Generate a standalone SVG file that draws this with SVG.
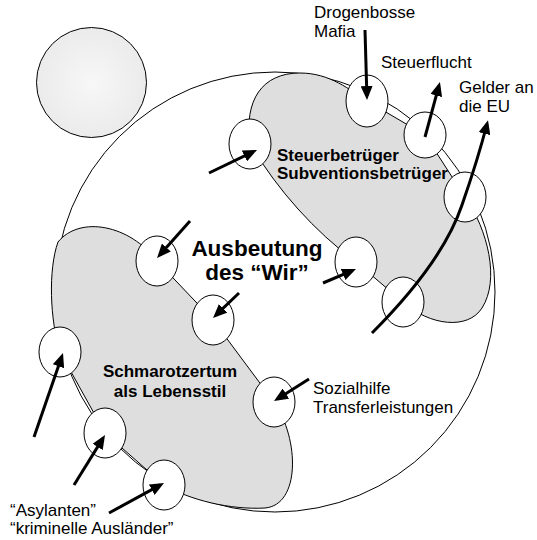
<svg xmlns="http://www.w3.org/2000/svg" width="537" height="540" viewBox="0 0 537 540">
<defs>
<radialGradient id="moon" cx="0.5" cy="0.5" r="0.5">
<stop offset="0" stop-color="#f7f7f7"/>
<stop offset="1" stop-color="#ebebeb"/>
</radialGradient>
<marker id="ah" viewBox="0 0 14 12" refX="10" refY="6" markerWidth="14" markerHeight="12" markerUnits="userSpaceOnUse" orient="auto">
<path d="M0,0 L14,6 L0,12 z" fill="#000"/>
</marker>
<style>
.ln{fill:none;stroke:#000;stroke-width:1}
.lobe{fill:#dedede;stroke:#000;stroke-width:1}
.el{fill:#fff;stroke:#000;stroke-width:1}
.ar{fill:none;stroke:#000;stroke-width:3;marker-end:url(#ah)}
text{font-family:"Liberation Sans",Arial,sans-serif;font-size:17px;fill:#000}
.b{font-weight:bold}
.big{font-weight:bold;font-size:22.5px}
</style>
</defs>
<rect width="537" height="540" fill="#fff"/>
<g id="moon-circle"><circle cx="91.5" cy="82.5" r="55" fill="url(#moon)" stroke="#000" stroke-width="1"/></g>
<g id="society"><circle cx="275" cy="292" r="220" fill="#fff" stroke="#000" stroke-width="1"/></g>
<g id="upper-lobe">
<path class="lobe" d="M250,144 C244,100 262,73 300,73 C330,73 350,90 367,101 L425,135 L465,197 C488,230 500,280 482,308 C468,330 430,326 403,302 L356,262 Q293,215 250,144 Z"/>
</g>
<g id="lower-lobe">
<path class="lobe" d="M157,261 C130,225 80,215 58,242 C48,270 50,320 60,352 L105,433 L164,485 C190,500 230,510 265,508 C300,505 300,440 274,402 L213,320 Z"/>
</g>
<g id="slots">
<ellipse class="el" cx="367" cy="101" rx="21" ry="26"/>
<ellipse class="el" cx="425" cy="135" rx="21" ry="23"/>
<ellipse class="el" cx="465" cy="197" rx="21" ry="25"/>
<ellipse class="el" cx="250" cy="144" rx="21" ry="25"/>
<ellipse class="el" cx="356" cy="262" rx="21" ry="25"/>
<ellipse class="el" cx="403" cy="302" rx="21" ry="25"/>
<ellipse class="el" cx="157" cy="261" rx="21" ry="25"/>
<ellipse class="el" cx="213" cy="320" rx="21" ry="25"/>
<ellipse class="el" cx="274" cy="402" rx="21" ry="25"/>
<ellipse class="el" cx="60" cy="352" rx="21" ry="25"/>
<ellipse class="el" cx="105" cy="433" rx="21" ry="25"/>
<ellipse class="el" cx="164" cy="485" rx="21" ry="25"/>
</g>
<g id="connectors">
<path class="ar" d="M365,30 L366.9,96"/>
<path class="ar" d="M425,137 L438.9,85.9"/>
<path class="ar" d="M372,333 C405,300 445,255 462,205 C470,182 479,155 487,124"/>
<path class="ar" d="M209,173 L253.4,151.7"/>
<path class="ar" d="M190,221 L159.7,255"/>
<path class="ar" d="M239,293 L215.9,315.2"/>
<path class="ar" d="M323,283 L352.3,270.6"/>
<path class="ar" d="M309,379 L277.4,398.9"/>
<path class="ar" d="M34,437 L61.7,356.8"/>
<path class="ar" d="M74,485 L102.9,438.4"/>
<path class="ar" d="M109,513 L160.5,484.9"/>
</g>
<g id="labels">
<text x="314" y="18">Drogenbosse</text>
<text x="314" y="37">Mafia</text>
<text x="381" y="68">Steuerflucht</text>
<text x="459" y="93">Gelder an</text>
<text x="459" y="112">die EU</text>
<text class="b" x="277" y="161">Steuerbetrüger</text>
<text class="b" x="277" y="179">Subventionsbetrüger</text>
<text class="big" x="257" y="256" text-anchor="middle">Ausbeutung</text>
<text class="big" x="257" y="280" text-anchor="middle">des “Wir”</text>
<text class="b" x="170" y="377" text-anchor="middle">Schmarotzertum</text>
<text class="b" x="170" y="397" text-anchor="middle">als Lebensstil</text>
<text x="313" y="394">Sozialhilfe</text>
<text x="313" y="413">Transferleistungen</text>
<text x="10" y="516">“Asylanten”</text>
<text x="10" y="534">“kriminelle Ausländer”</text>
</g>
</svg>
